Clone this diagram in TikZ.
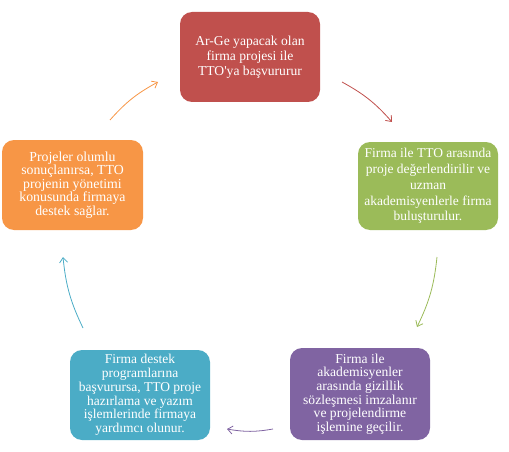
\documentclass[tikz,border=0pt]{standalone}
\usepackage{fontspec}
\setmainfont{Liberation Serif}
\usetikzlibrary{arrows.meta}
\definecolor{cred}{HTML}{C0504D}
\definecolor{cgreen}{HTML}{9BBB59}
\definecolor{cpurple}{HTML}{8064A2}
\definecolor{cblue}{HTML}{4BACC6}
\definecolor{corange}{HTML}{F79646}
\tikzset{
  stepbox/.style={rounded corners=12pt, text=white, align=center,
    minimum width=140pt, inner sep=0pt},
  cyc/.style={line width=0.8pt, -{Straight Barb[length=5pt,width=8pt]}, bend left=10}
}
\begin{document}
\begin{tikzpicture}[x=1pt,y=-1pt]
\useasboundingbox (0,0) rectangle (509,452);
\node[stepbox, fill=cred, minimum height=90pt, font=\fontsize{13.6}{15}\selectfont] (red) at (250,57)
  {Ar-Ge yapacak olan\\firma projesi ile\\TTO\textquotesingle ya başvururur};
\node[stepbox, fill=cgreen, minimum height=88pt, font=\fontsize{13.5}{15.8}\selectfont] (green) at (428,186)
  {Firma ile TTO arasında\\proje değerlendirilir ve\\uzman\\akademisyenlerle firma\\buluşturulur.};
\node[stepbox, fill=cpurple, minimum height=92pt, font=\fontsize{13.6}{13.7}\selectfont] (purple) at (360,394)
  {Firma ile\\akademisyenler\\arasında gizillik\\sözleşmesi imzalanır\\ve projelendirme\\işlemine geçilir.};
\node[stepbox, fill=cblue, minimum height=90pt, font=\fontsize{13.5}{13.7}\selectfont] (blue) at (140,395)
  {Firma destek\\programlarına\\başvurursa, TTO proje\\hazırlama ve yazım\\işlemlerinde firmaya\\yardımcı olunur.};
\node[stepbox, fill=corange, minimum height=90pt, minimum width=141pt, font=\fontsize{13.8}{13.4}\selectfont] (orange) at (72.5,185)
  {Projeler olumlu\\sonuçlanırsa, TTO\\projenin yönetimi\\konusunda firmaya\\destek sağlar.};
\coordinate (a1s) at (110,120); \coordinate (a1e) at (158,82);
\coordinate (a2s) at (342,82);  \coordinate (a2e) at (392,122);
\coordinate (a3s) at (437,257); \coordinate (a3e) at (417,327);
\coordinate (a4s) at (273,429); \coordinate (a4e) at (227,429);
\coordinate (a5s) at (83,328);  \coordinate (a5e) at (63,257);
\draw[cyc, draw=corange] (a1s) to (a1e);
\draw[cyc, draw=cred] (a2s) to (a2e);
\draw[cyc, draw=cgreen] (a3s) to (a3e);
\draw[cyc, draw=cpurple] (a4s) to (a4e);
\draw[cyc, draw=cblue] (a5s) to (a5e);
\end{tikzpicture}
\end{document}
